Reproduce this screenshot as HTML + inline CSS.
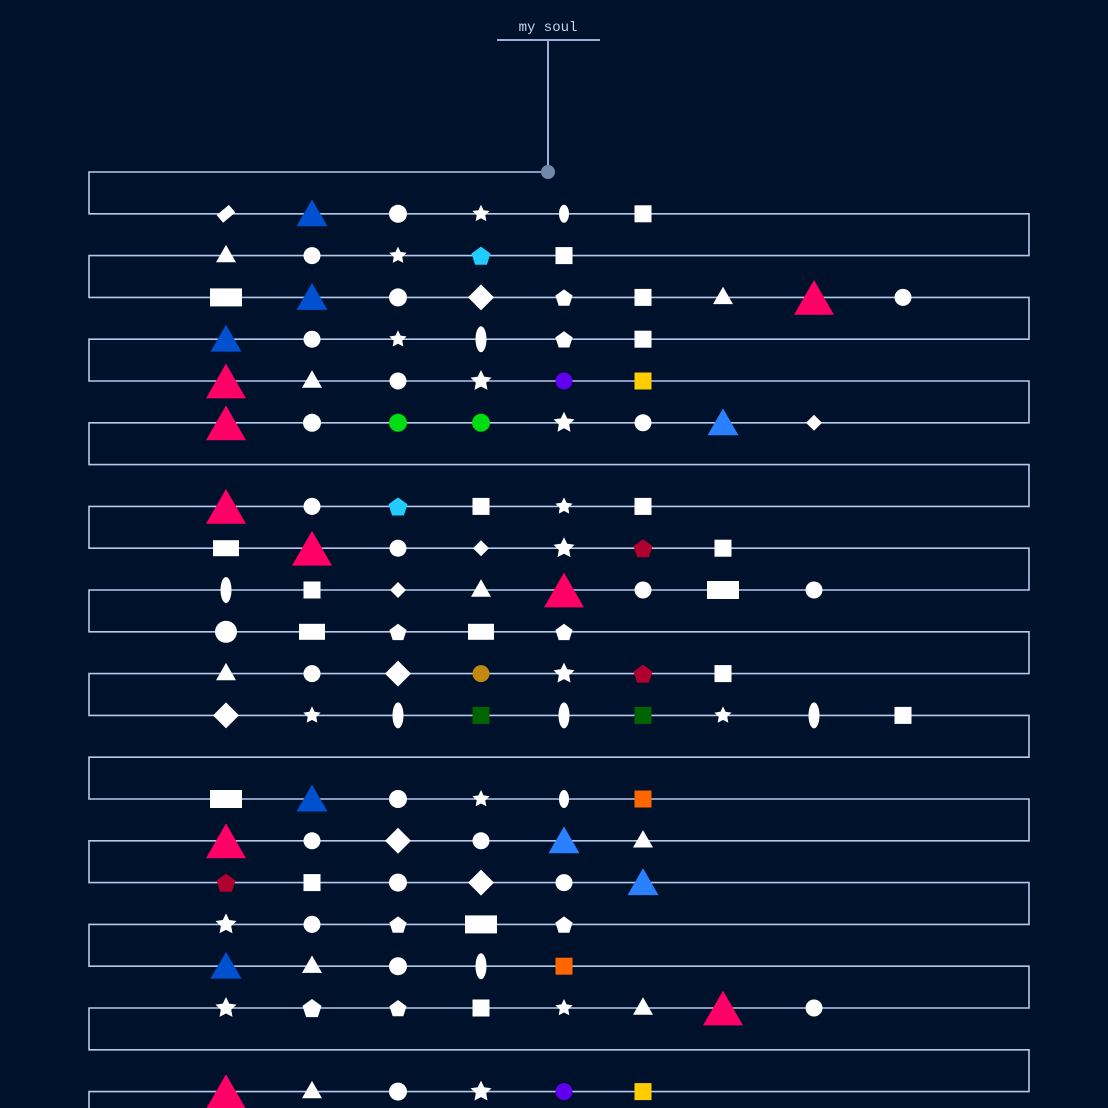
<!DOCTYPE html>
<html><head><meta charset="utf-8"><style>
html,body{margin:0;padding:0;background:#00112b;}
svg{display:block}
</style></head><body>
<svg id="s" width="1108" height="1108" viewBox="0 0 1108 1108" xmlns="http://www.w3.org/2000/svg">
<rect width="1108" height="1108" fill="#00112b"/>
<text x="548" y="31" text-anchor="middle" font-family="Liberation Mono, monospace" font-size="14" fill="#c8d4ea">my soul</text>
<line x1="497" y1="40" x2="600" y2="40" stroke="#9ab0d8" stroke-width="2"/>
<line x1="548" y1="40" x2="548" y2="172" stroke="#9ab0d8" stroke-width="2"/>
<g id="g"></g>
</svg>
<script>
const g=document.getElementById('g');
const Y=k=>172+41.8*k;
let d='M548 172 L89 172';
for(let k=1;k<=22;k++){const y=Y(k),yp=Y(k-1);
 if(k%2==1){d+=` L89 ${y} L1029 ${y}`;}else{d+=` L1029 ${y} L89 ${y}`;}}
d+=' L89 1110';
let h=`<path d="${d}" fill="none" stroke="#b8c8ec" stroke-width="1.6"/>`;
h+=`<circle cx="548" cy="172" r="7" fill="#7088aa"/>`;
const X=[226,312,398,481,564,643,723,814,903];
const W='#fff',PK='#ff0066',BL='#0050d0',LB='#2a80ff',CY='#22ccff',CR='#b00030';
function star(x,y,r){let p=[];for(let i=0;i<10;i++){const a=-Math.PI/2+i*Math.PI/5,rr=i%2?r*0.5:r;p.push((x+rr*Math.cos(a)).toFixed(1)+','+(y+rr*Math.sin(a)).toFixed(1));}return `<polygon points="${p.join(' ')}"`;}
function pent(x,y,r){let p=[];for(let i=0;i<5;i++){const a=-Math.PI/2+i*2*Math.PI/5;p.push((x+r*Math.cos(a)).toFixed(1)+','+(y+r*Math.sin(a)+1).toFixed(1));}return `<polygon points="${p.join(' ')}"`;}
function tri(x,y,s){const hh=s*0.87;return `<polygon points="${x},${y-hh/2-2} ${x-s/2},${y+hh/2-2} ${x+s/2},${y+hh/2-2}"`;}
function shp(t,x,y,c){c=c||W;let e='';
 switch(t){
 case 'TL':e=tri(x,y+2,40);c=c==W?PK:c;break;
 case 'TM':e=tri(x,y+1,31);break;
 case 'TS':e=tri(x,y,20);break;
 case 'C':e=`<circle cx="${x}" cy="${y}" r="9"`;break;
 case 'c':e=`<circle cx="${x}" cy="${y}" r="8.5"`;break;
 case 'CB':e=`<circle cx="${x}" cy="${y}" r="11"`;break;
 case 'S':e=star(x,y,11);break;
 case 's':e=star(x,y,9);break;
 case 'P':e=pent(x,y,10);break;
 case 'p':e=pent(x,y,9);break;
 case 'Q':e=`<rect x="${x-8.5}" y="${y-8.5}" width="17" height="17"`;break;
 case 'R':e=`<rect x="${x-16}" y="${y-9}" width="32" height="18"`;break;
 case 'r':e=`<rect x="${x-13}" y="${y-8}" width="26" height="16"`;break;
 case 'D':e=`<polygon points="${x},${y-13} ${x+13},${y} ${x},${y+13} ${x-13},${y}"`;break;
 case 'd':e=`<polygon points="${x},${y-8} ${x+8},${y} ${x},${y+8} ${x-8},${y}"`;break;
 case 'E':e=`<ellipse cx="${x}" cy="${y}" rx="5.5" ry="13"`;break;
 case 'e':e=`<ellipse cx="${x}" cy="${y}" rx="5" ry="9"`;break;
 case 'TR':e=`<rect x="${x-8}" y="${y-5}" width="16" height="10" transform="rotate(-40 ${x} ${y})"`;break;
 }
 return e+` fill="${c}"/>`;}
const rows={
1:[['TR'],['TM',BL],['C'],['s'],['e'],['Q']],
2:[['TS'],['c'],['s'],['P',CY],['Q']],
3:[['R'],['TM',BL],['C'],['D'],['p'],['Q'],['TS'],['TL'],['c']],
4:[['TM',BL],['c'],['s'],['E'],['p'],['Q']],
5:[['TL'],['TS'],['c'],['S'],['c','#6000ee'],['Q','#ffcc00']],
6:[['TL'],['C'],['C','#00dd11'],['C','#00dd11'],['S'],['c'],['TM',LB],['d']],
8:[['TL'],['c'],['P',CY],['Q'],['s'],['Q']],
9:[['r'],['TL'],['c'],['d'],['S'],['P',CR],['Q']],
10:[['E'],['Q'],['d'],['TS'],['TL'],['c'],['R'],['c']],
11:[['CB'],['r'],['p'],['r'],['p']],
12:[['TS'],['c'],['D'],['c','#c08a10'],['S'],['P',CR],['Q']],
13:[['D'],['s'],['E'],['Q','#006400'],['E'],['Q','#006400'],['s'],['E'],['Q']],
15:[['R'],['TM',BL],['C'],['s'],['e'],['Q','#ff6600']],
16:[['TL'],['c'],['D'],['c'],['TM',LB],['TS']],
17:[['P',CR],['Q'],['C'],['D'],['c'],['TM',LB]],
18:[['S'],['c'],['p'],['R'],['p']],
19:[['TM',BL],['TS'],['C'],['E'],['Q','#ff6600']],
20:[['S'],['P'],['p'],['Q'],['s'],['TS'],['TL'],['c']],
22:[['TL'],['TS'],['C'],['S'],['c','#6000ee'],['Q','#ffcc00']]
};
for(const k in rows){const y=Y(+k);rows[k].forEach((s,i)=>{h+=shp(s[0],X[i],y,s[1]);});}
g.innerHTML=h;
</script>
</body></html>
